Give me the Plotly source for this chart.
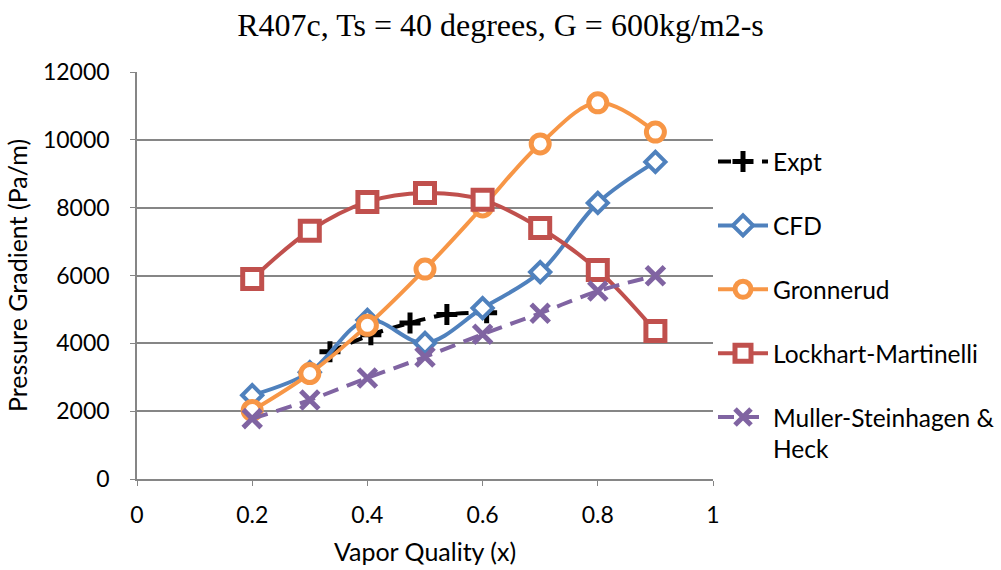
import plotly.graph_objects as go

x_q = [0.2, 0.3, 0.4, 0.5, 0.6, 0.7, 0.8, 0.9]
expt_x = [0.335, 0.406, 0.474, 0.538, 0.607]
expt_y = [3750, 4250, 4600, 4850, 4900]
cfd = [2470, 3150, 4690, 4010, 5040, 6100, 8140, 9350]
gronnerud = [2020, 3110, 4530, 6190, 8020, 9880, 11090, 10230]
lockhart = [5900, 7320, 8170, 8430, 8230, 7400, 6160, 4360]
muller = [1780, 2330, 2980, 3600, 4270, 4890, 5540, 5990]

blue = "#4F81BD"
orange = "#F79646"
red = "#C0504D"
purple = "#8064A2"

fig = go.Figure()

fig.add_trace(go.Scatter(
    x=expt_x, y=expt_y, name="Expt", legendgroup="a",
    mode="lines+markers",
    line=dict(color="black", width=4, dash="13px,9px", shape="spline"),
    marker=dict(symbol="cross-thin", size=15, line=dict(color="black", width=5)),
))
fig.add_trace(go.Scatter(
    x=x_q, y=cfd, name="CFD", legendgroup="b",
    mode="lines+markers",
    line=dict(color=blue, width=4, shape="spline"),
    marker=dict(symbol="diamond", size=15.5, color="white", line=dict(color=blue, width=4)),
))
fig.add_trace(go.Scatter(
    x=x_q, y=gronnerud, name="Gronnerud", legendgroup="c",
    mode="lines+markers",
    line=dict(color=orange, width=4, shape="spline"),
    marker=dict(symbol="circle", size=18, color="white", line=dict(color=orange, width=5)),
))
fig.add_trace(go.Scatter(
    x=x_q, y=lockhart, name="Lockhart-Martinelli", legendgroup="d",
    mode="lines+markers",
    line=dict(color=red, width=4, shape="spline"),
    marker=dict(symbol="square", size=19, color="white", line=dict(color=red, width=5)),
))
fig.add_trace(go.Scatter(
    x=x_q, y=muller, name="Muller-Steinhagen &<br>Heck", legendgroup="e",
    mode="lines+markers",
    line=dict(color=purple, width=4, dash="16px,9px", shape="spline"),
    marker=dict(symbol="x-thin", size=18, line=dict(color=purple, width=5)),
))

tick_font = dict(family="Lato, Carlito, sans-serif", size=23, color="black")
title_font = dict(family="Lato, Carlito, sans-serif", size=25, color="black")

fig.update_layout(
    width=1001, height=570,
    margin=dict(l=137, r=288, t=72, b=91, autoexpand=False),
    paper_bgcolor="white", plot_bgcolor="white",
    title=dict(text="R407c, Ts = 40 degrees, G = 600kg/m2-s",
               font=dict(family="Liberation Serif, Times New Roman, serif", size=32, color="black"),
               x=0.5, xref="container", xanchor="center",
               y=0.957, yref="container", yanchor="middle"),
    legend=dict(x=1.0, xanchor="left", y=0.835, yanchor="top",
                font=dict(family="Lato, Carlito, sans-serif", size=24.5, color="black"),
                tracegroupgap=29, itemwidth=50, valign="top",
                bgcolor="rgba(0,0,0,0)"),
    showlegend=True,
)

fig.update_xaxes(
    range=[0, 1], dtick=0.2, tick0=0,
    showgrid=False, zeroline=False,
    showline=True, linecolor="#868686", linewidth=1.5,
    ticks="outside", ticklen=5, tickcolor="#868686",
    tickfont=tick_font, ticklabelstandoff=10,
    title=dict(text="Vapor Quality (x)", font=title_font, standoff=16),
)
fig.update_yaxes(
    range=[0, 12000], dtick=2000, tick0=0, tickformat="d",
    showgrid=True, gridcolor="#868686", gridwidth=1.5,
    zeroline=False,
    showline=True, linecolor="#868686", linewidth=1.5,
    ticks="outside", ticklen=5, tickcolor="#868686",
    tickfont=tick_font, ticklabelstandoff=16,
    title=dict(text="Pressure Gradient (Pa/m)", font=title_font, standoff=8),
)

fig.write_html("out.html")
